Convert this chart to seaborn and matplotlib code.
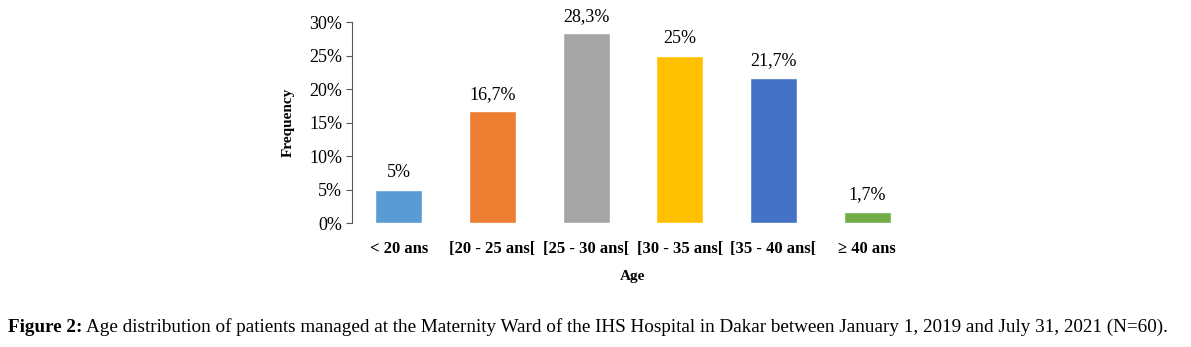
import matplotlib
matplotlib.use("Agg")
import matplotlib.pyplot as plt
import seaborn as sns
import pandas as pd

# --- DATA ---
categories = ["< 20 ans", "[20 - 25 ans[", "[25 - 30 ans[", "[30 - 35 ans[", "[35 - 40 ans[", "\u2265 40 ans"]
values = [5.0, 16.7, 28.3, 25.0, 21.7, 1.7]
colors = ["#5B9BD5", "#ED7D31", "#A5A5A5", "#FFC000", "#4472C4", "#70AD47"]
yticks = [0, 5, 10, 15, 20, 25, 30]
caption_bold = "Figure 2:"
caption_text = ("Age distribution of patients managed at the Maternity Ward of the IHS Hospital "
                "in Dakar between January 1, 2019 and July 31, 2021 (N=60).")

sns.set_style("white")
plt.rcParams["font.family"] = ["Liberation Serif", "DejaVu Serif"]
plt.rcParams["text.color"] = "black"
plt.rcParams["axes.labelcolor"] = "black"
plt.rcParams["xtick.color"] = "black"
plt.rcParams["ytick.color"] = "black"

df = pd.DataFrame({"Age": categories, "Frequency": values})

fig = plt.figure(figsize=(11.91, 3.47), dpi=100)
ax = fig.add_axes([0.2955, 0.357, 0.4719, 0.5794])

sns.barplot(data=df, x="Age", y="Frequency", hue="Age", palette=colors,
            legend=False, width=0.5, saturation=1, ax=ax)

ax.set_xlim(-0.5, len(categories) - 0.5)
ax.set_ylim(0, 30)
ax.set_yticks(yticks)
ax.set_yticklabels([f"{t}%" for t in yticks], fontsize=13)
ax.tick_params(axis="y", length=4, width=0.8, color="#595959", pad=3, left=True)
ax.tick_params(axis="x", length=0, pad=13, labelsize=12)
for lbl in ax.get_xticklabels():
    lbl.set_fontweight("bold")

for side in ["top", "right", "bottom"]:
    ax.spines[side].set_visible(False)
ax.spines["left"].set_color("#595959")
ax.spines["left"].set_linewidth(0.8)

# labels above bars
for i, v in enumerate(values):
    txt = f"{v:g}".replace(".", ",") + "%"
    ax.annotate(txt, (i, v), xytext=(0, 6), textcoords="offset points",
                ha="center", va="bottom", fontsize=13)

ax.set_xlabel("Age", fontsize=11, fontweight="bold", labelpad=9)
ax.set_ylabel("Frequency", fontsize=11, fontweight="bold", labelpad=10)

# caption
t1 = fig.text(8 / 1191, 1 - 327 / 347, caption_bold, fontsize=13.8,
              fontweight="bold", va="center", ha="left")
fig.canvas.draw()
bb = t1.get_window_extent(renderer=fig.canvas.get_renderer())
fig.text((bb.x1 + 4) / 1191, 1 - 327 / 347, caption_text, fontsize=13.8,
         va="center", ha="left")

fig.savefig("out.png", dpi=100)
